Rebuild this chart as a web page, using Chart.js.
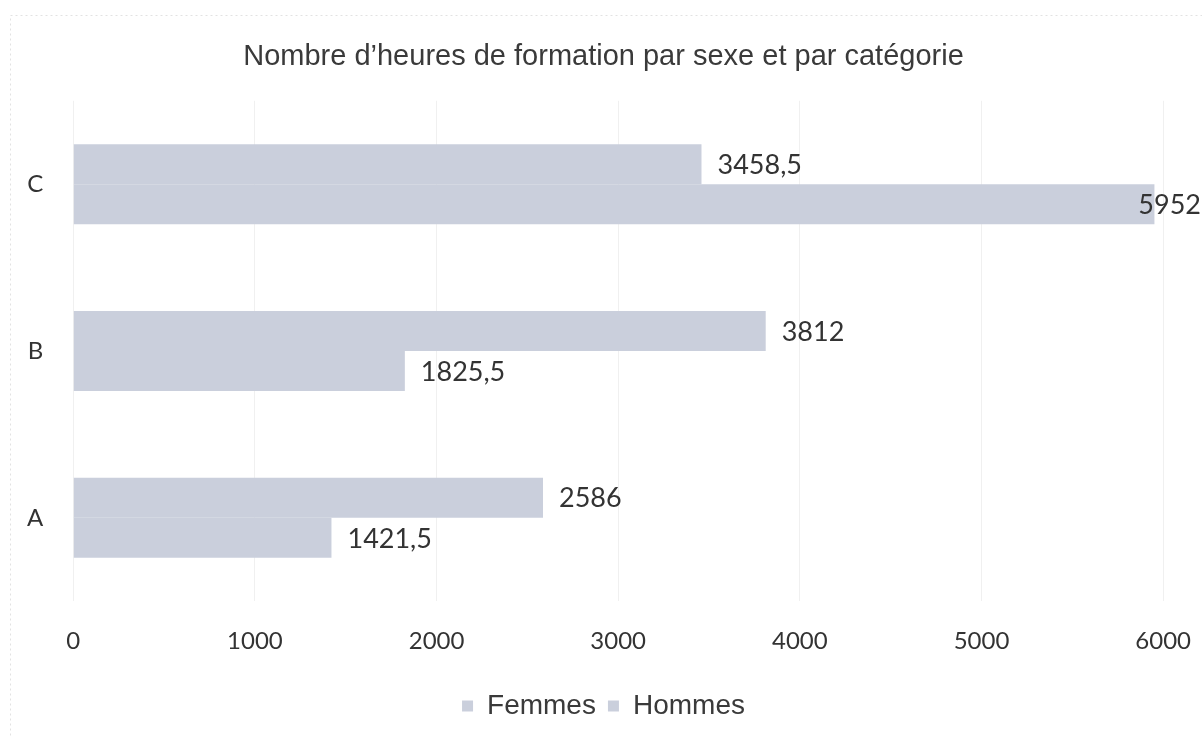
<!DOCTYPE html>
<html>
<head>
<meta charset="utf-8">
<script src="https://cdn.jsdelivr.net/npm/chart.js@4"></script>
<style>
  html, body { margin: 0; padding: 0; background: #fff; }
  #wrap { width: 1202px; height: 736px; position: relative; }
</style>
</head>
<body>
<div id="wrap"><canvas id="barChart" width="1202" height="736"></canvas></div>
<script>
const categories = ["C", "B", "A"]
const femmes = [3458.5, 3812, 2586]
const hommes = [5952, 1825.5, 1421.5]
const xTicks = [0, 1000, 2000, 3000, 4000, 5000, 6000]

const barColor = "#cacfdc"

// write values at the end of each bar, french decimal comma
const valueLabels = {
  id: "valueLabels",
  afterDatasetsDraw(chart) {
    const ctx = chart.ctx
    ctx.save()
    ctx.font = "27px Lato, 'Open Sans', sans-serif"
    ctx.fillStyle = "#333"
    ctx.textBaseline = "middle"
    ctx.textAlign = "left"
    chart.data.datasets.forEach((ds, i) => {
      chart.getDatasetMeta(i).data.forEach((bar, j) => {
        const txt = String(ds.data[j]).replace(".", ",")
        const w = ctx.measureText(txt).width
        let x = bar.x + 16
        if (x + w > chart.width - 1) x = Math.min(bar.x + 1, chart.width - w - 1)
        ctx.fillText(txt, x, bar.y + 1)
      })
    })
    ctx.restore()
  }
}

// faint dotted frame like the original
const frame = {
  id: "frame",
  beforeDraw(chart) {
    const ctx = chart.ctx
    ctx.save()
    ctx.strokeStyle = "#e2e2e2"
    ctx.setLineDash([2, 3])
    ctx.lineWidth = 1
    ctx.strokeRect(10.5, 15.5, 1200, 730)
    ctx.restore()
  }
}

const CHART = document.getElementById("barChart")

let barChart = new Chart(CHART, {
  type: 'bar',
  data: {
    labels: categories,
    datasets: [
      {
        label: "Femmes",
        backgroundColor: barColor,
        borderWidth: 0,
        data: femmes
      },
      {
        label: "Hommes",
        backgroundColor: barColor,
        borderWidth: 0,
        data: hommes
      }
    ]
  },
  options: {
    indexAxis: 'y',
    responsive: false,
    animation: false,
    layout: {
      padding: { top: 8, right: 0, bottom: 6, left: 5 }
    },
    datasets: {
      bar: { barPercentage: 1, categoryPercentage: 0.48 }
    },
    scales: {
      x: {
        min: 0,
        max: 6000,
        afterBuildTicks: (axis) => { axis.ticks = xTicks.map(v => ({ value: v })) },
        afterFit: (axis) => { axis.height += 13 },
        grid: { color: "#f0f0f0", drawTicks: true, tickLength: 15, tickColor: "rgba(0,0,0,0)" },
        border: { display: false },
        ticks: {
          padding: 11,
          color: "#333",
          callback: (v) => String(v),
          font: { family: "Lato, 'Open Sans', sans-serif", size: 24 }
        }
      },
      y: {
        grid: { display: false },
        border: { display: false },
        ticks: {
          padding: 22,
          color: "#333",
          font: { family: "Lato, 'Open Sans', sans-serif", size: 24 }
        }
      }
    },
    plugins: {
      title: {
        display: true,
        text: "Nombre d\u2019heures de formation par sexe et par cat\u00e9gorie",
        color: "#3a3a3a",
        font: { family: "'Liberation Sans', Arial, sans-serif", size: 29, weight: 'normal' },
        padding: { top: 32, bottom: 26 }
      },
      legend: {
        position: 'bottom',
        labels: {
          boxWidth: 11,
          boxHeight: 11,
          padding: 12,
          color: "#3a3a3a",
          font: { family: "'Liberation Sans', Arial, sans-serif", size: 28 }
        }
      },
      tooltip: { enabled: false }
    }
  },
  plugins: [valueLabels, frame]
})
</script>
</body>
</html>
